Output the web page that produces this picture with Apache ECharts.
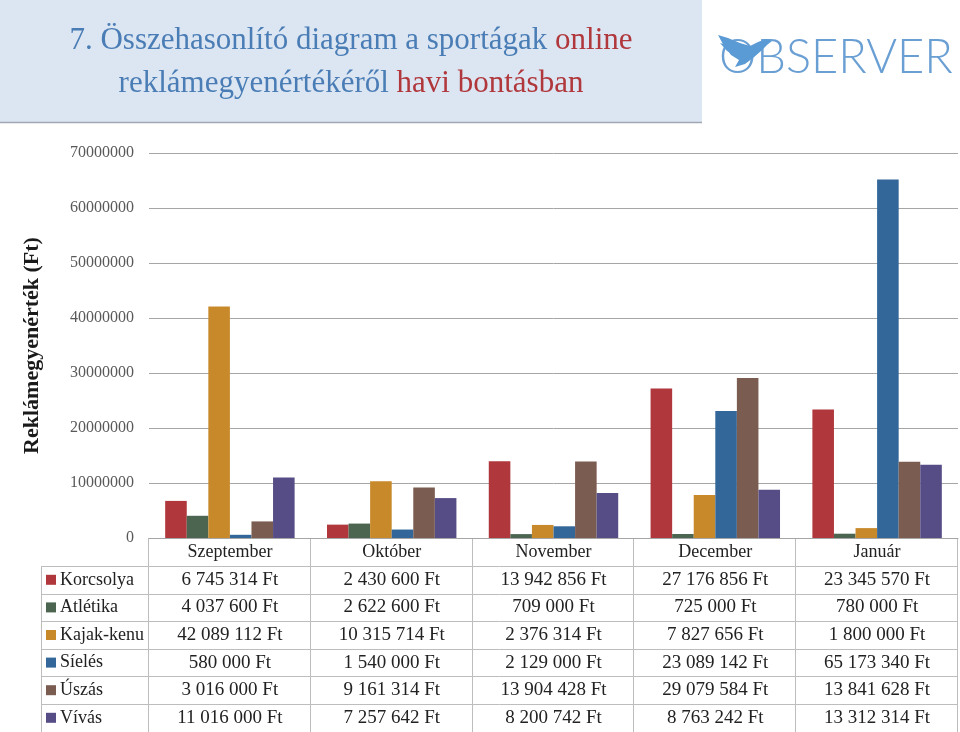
<!DOCTYPE html>
<html>
<head>
<meta charset="utf-8">
<script src="https://cdn.jsdelivr.net/npm/echarts@6/dist/echarts.min.js"></script>
<style>html,body{margin:0;padding:0;background:#fff}#c{width:960px;height:732px}</style>
</head>
<body>
<div id="c"></div>
<script>
const categories = ['Szeptember', 'Október', 'November', 'December', 'Január'];
const seriesNames = ['Korcsolya', 'Atlétika', 'Kajak-kenu', 'Síelés', 'Úszás', 'Vívás'];
const korcsolya = [6745314, 2430600, 13942856, 27176856, 23345570];
const atletika = [4037600, 2622600, 709000, 725000, 780000];
const kajakKenu = [42089112, 10315714, 2376314, 7827656, 1800000];
const sieles = [580000, 1540000, 2129000, 23089142, 65173340];
const uszas = [3016000, 9161314, 13904428, 29079584, 13841628];
const vivas = [11016000, 7257642, 8200742, 8763242, 13312314];
const yTicks = [0, 10000000, 20000000, 30000000, 40000000, 50000000, 60000000, 70000000];

const seriesData = [korcsolya, atletika, kajakKenu, sieles, uszas, vivas];
const colors = ['#B0373B', '#4B6551', '#C8892A', '#346799', '#7B5C51', '#564D86'];
const SERIF = '"Liberation Serif", "DejaVu Serif", serif';

function fmt(v) {
  return String(v).replace(/\B(?=(\d{3})+(?!\d))/g, ' ') + ' Ft';
}

const chart = echarts.init(document.getElementById('c'), null, {renderer: 'canvas'});
const option = {
  animation: false,
  color: colors,
  grid: {left: 149, right: 2, top: 153, bottom: 194, containLabel: false},
  xAxis: {
    type: 'category',
    data: categories,
    axisLine: {show: true, lineStyle: {color: '#A6A6A6', width: 1}},
    axisTick: {show: false},
    axisLabel: {color: '#222', fontFamily: SERIF, fontSize: 18, margin: 5}
  },
  yAxis: {
    type: 'value',
    min: yTicks[0],
    max: yTicks[yTicks.length - 1],
    interval: yTicks[1] - yTicks[0],
    name: 'Reklámegyenérték (Ft)',
    nameLocation: 'middle',
    nameGap: 106,
    nameTextStyle: {color: '#1a1a1a', fontFamily: SERIF, fontSize: 22, fontWeight: 'bold'},
    axisLine: {show: false},
    axisTick: {show: false},
    axisLabel: {color: '#595959', fontFamily: SERIF, fontSize: 16, margin: 15, formatter: v => String(v)},
    splitLine: {lineStyle: {color: '#A6A6A6', width: 1}}
  },
  series: seriesNames.map((n, i) => ({
    name: n,
    type: 'bar',
    data: seriesData[i],
    barGap: '0%',
    barCategoryGap: '20%'
  }))
};
chart.setOption(option);

// table + decorations
const xs = categories.map((c, i) => chart.convertToPixel({xAxisIndex: 0}, i));
const step = xs[1] - xs[0];
const leftEdge = xs[0] - step / 2;
const rightEdge = xs[xs.length - 1] + step / 2;
const axisY = chart.convertToPixel({yAxisIndex: 0}, 0);
const rowTop = 566, rowH = 27.6, headLeft = 41;
const lineColor = '#BDBDBD';
const g = [];

// title box
g.push({type: 'rect', shape: {x: 0, y: 0, width: 702, height: 122}, style: {fill: '#DCE6F2'}, z: 0});
g.push({type: 'line', shape: {x1: 0, y1: 122.5, x2: 702, y2: 122.5}, style: {stroke: '#A0A8B4', lineWidth: 1.5}});
g.push({
  type: 'text', x: 351, y: 62,
  style: {
    text: '{a|7. Összehasonlító diagram a sportágak }{b|online}\n{a|reklámegyenértékéről }{b|havi bontásban}',
    align: 'center', verticalAlign: 'middle',
    rich: {
      a: {fill: '#4A7DB5', fontFamily: SERIF, fontSize: 31, lineHeight: 43},
      b: {fill: '#B0373B', fontFamily: SERIF, fontSize: 31, lineHeight: 43}
    }
  }
});
// logo
g.push({
  type: 'text', x: 719, y: 58,
  style: {text: 'OBSERVER', fill: '#6A9FD4', fontFamily: 'Lato, "Open Sans", sans-serif', fontWeight: 300, fontSize: 47, verticalAlign: 'middle', align: 'left'}
});
g.push({
  type: 'polygon',
  shape: {points: [[718, 35], [728, 38], [740, 43], [750, 46], [758, 42], [766, 39], [772, 41], [767, 45], [761, 51], [753, 58], [745, 64], [735, 67], [739, 60], [731, 55], [724, 46]]},
  style: {fill: '#5B9BD5'}
});
g.push({
  type: 'polygon',
  shape: {points: [[720, 43], [731, 46], [742, 52], [736, 55], [727, 51]]},
  style: {fill: '#5B9BD5'}
});

// table lines
for (let r = 0; r <= 6; r++) {
  const y = Math.round(rowTop + r * rowH) + 0.5;
  g.push({type: 'line', shape: {x1: headLeft, y1: y, x2: rightEdge, y2: y}, style: {stroke: lineColor, lineWidth: 1}});
}
const tableBottom = Math.round(rowTop + 6 * rowH) + 0.5;
for (let i = 0; i <= categories.length; i++) {
  const x = Math.round(leftEdge + i * step) - 0.5;
  g.push({type: 'line', shape: {x1: x, y1: axisY, x2: x, y2: tableBottom}, style: {stroke: lineColor, lineWidth: 1}});
}
g.push({type: 'line', shape: {x1: headLeft + 0.5, y1: rowTop, x2: headLeft + 0.5, y2: tableBottom}, style: {stroke: lineColor, lineWidth: 1}});

// row headers + values
seriesNames.forEach((n, r) => {
  const cy = rowTop + r * rowH + rowH / 2;
  g.push({type: 'rect', shape: {x: 46, y: cy - 5, width: 10, height: 10}, style: {fill: colors[r]}});
  g.push({type: 'text', x: 60, y: cy, style: {text: n, fill: '#222', fontFamily: SERIF, fontSize: 18, verticalAlign: 'middle', align: 'left'}});
  seriesData[r].forEach((v, i) => {
    g.push({type: 'text', x: xs[i], y: cy, style: {text: fmt(v), fill: '#222', fontFamily: SERIF, fontSize: 19, verticalAlign: 'middle', align: 'center'}});
  });
});

chart.setOption({graphic: g});
</script>
</body>
</html>
